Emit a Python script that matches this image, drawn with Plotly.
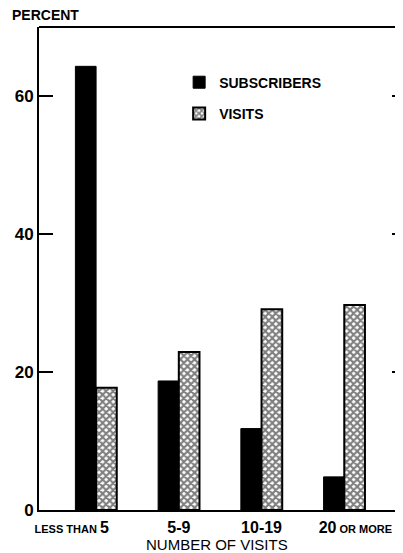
import plotly.graph_objects as go

categories = ["LESS THAN 5", "5-9", "10-19", "20 OR MORE"]
small = "<span style='font-size:11px;font-weight:bold'>{}</span>"
tick_text = [
    small.format("LESS THAN ") + "5" + "&nbsp;" * 11,
    "5-9",
    "10-19",
    "&nbsp;" * 5 + "20" + small.format(" OR MORE"),
]
subscribers = [64.3, 18.7, 11.8, 4.8]
visits = [17.7, 22.9, 29.1, 29.7]
y_ticks = [0, 20, 40, 60]
x_title = "NUMBER OF VISITS"
y_title = "PERCENT"

font = "Liberation Sans, Arial, sans-serif"

fig = go.Figure()
fig.add_trace(go.Bar(
    x=categories, y=subscribers, name="SUBSCRIBERS",
    marker=dict(color="black", line=dict(color="black", width=1)),
    legendgroup="a",
))
fig.add_trace(go.Bar(
    x=categories, y=visits, name="VISITS",
    marker=dict(color="white", line=dict(color="black", width=2),
                pattern=dict(shape="x", fgcolor="black", bgcolor="white",
                             size=5, solidity=0.65)),
    legendgroup="b",
))
# invisible helper so the right-hand tick axis is drawn
fig.add_trace(go.Scatter(x=categories, y=visits, yaxis="y2", mode="markers",
                         marker=dict(opacity=0), showlegend=False, hoverinfo="skip"))

fig.update_layout(
    width=403, height=553,
    margin=dict(l=31, r=8, t=19, b=51, autoexpand=False),
    paper_bgcolor="white", plot_bgcolor="white",
    barmode="group", bargap=0.5, bargroupgap=0,
    font=dict(family=font, color="black"),
    showlegend=True,
    legend=dict(x=0.385, y=0.918, xanchor="left", yanchor="top",
                font=dict(size=14, family=font, weight="bold"),
                bgcolor="rgba(0,0,0,0)", tracegroupgap=10,
                traceorder="grouped"),
    xaxis=dict(
        type="category", range=[-0.69, 3.71],
        tickvals=categories, ticktext=tick_text,
        tickfont=dict(size=16, family=font, weight="bold"),
        ticklabelstandoff=2,
        showline=True, linecolor="black", linewidth=2,
        ticks="", showgrid=False, zeroline=False,
    ),
    yaxis=dict(
        range=[0, 70], tickvals=y_ticks,
        tickfont=dict(size=17, family=font, weight="bold"),
        showline=True, linecolor="black", linewidth=2,
        ticks="inside", ticklen=14, tickwidth=2, tickcolor="black",
        showgrid=False, zeroline=False,
    ),
    yaxis2=dict(
        range=[0, 70], overlaying="y", side="right", anchor="free", position=1,
        tickvals=y_ticks[1:], showticklabels=False,
        ticks="inside", ticklen=11, tickwidth=2, tickcolor="black",
        showline=False, showgrid=False, zeroline=False,
    ),
    shapes=[dict(type="line", xref="paper", yref="paper", x0=0, x1=1, y0=1, y1=1,
                 line=dict(color="black", width=2))],
    annotations=[
        dict(text=y_title, xref="paper", yref="paper", x=0, y=1.0,
             xanchor="left", yanchor="bottom", xshift=-29, yshift=2,
             showarrow=False, font=dict(size=14, family=font, weight="bold")),
        dict(text=x_title, xref="paper", yref="paper", x=0.5, y=0,
             xanchor="center", yanchor="middle", xshift=-4, yshift=-34,
             showarrow=False, font=dict(size=15, family=font)),
    ],
)

fig.write_html("out.html")
